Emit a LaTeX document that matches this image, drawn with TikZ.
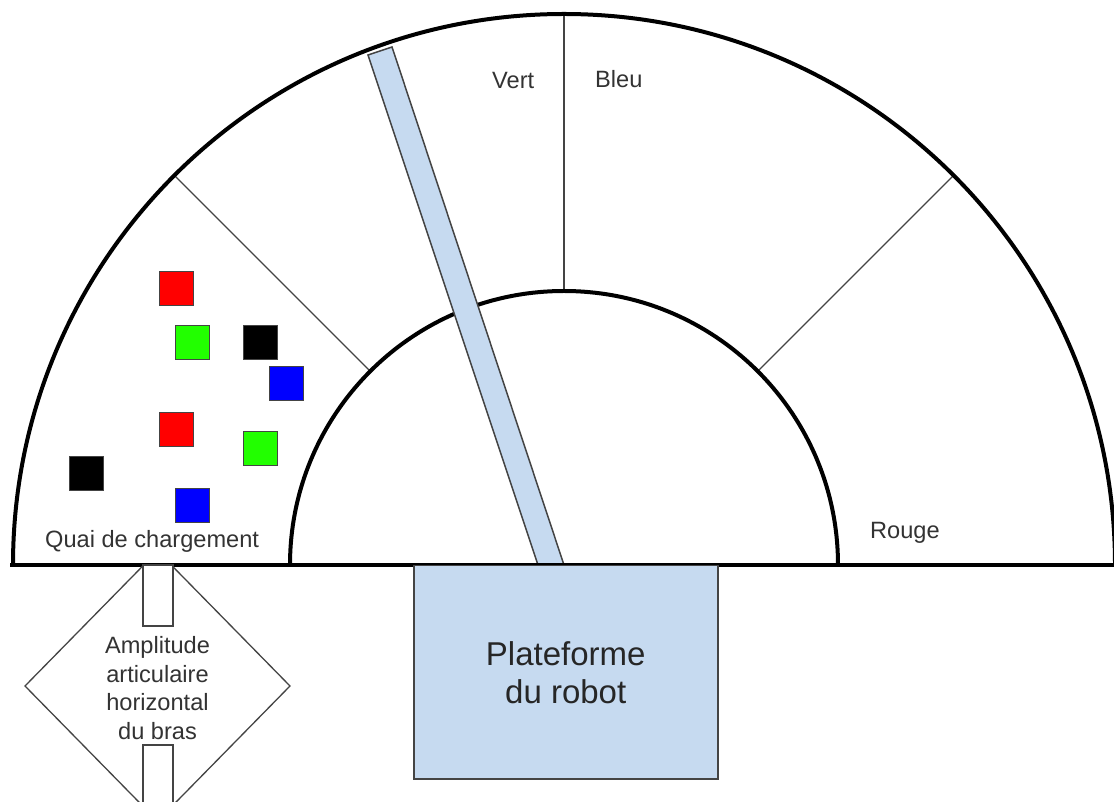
\documentclass[tikz,border=0pt]{standalone}
\usepackage{fontspec}
\setmainfont{Liberation Sans}
\definecolor{armblue}{HTML}{C6DAF0}
\definecolor{edge}{HTML}{444444}
\definecolor{cubered}{HTML}{FF0000}
\definecolor{cubegreen}{HTML}{22FF00}
\definecolor{cubeblue}{HTML}{0000FF}
\tikzset{
  thickline/.style={line width=4pt, black},
  radial/.style={line width=1.3pt, draw=edge},
  lbl/.style={inner sep=0pt, anchor=base west, text=black!80, font=\fontsize{23.6}{28}\selectfont},
  cube/.style={minimum size=34pt, inner sep=0pt, draw=edge, line width=1pt},
  bluebox/.style={fill=armblue, draw=edge, line width=1.5pt},
}
\begin{document}
\begin{tikzpicture}[x=1pt,y=1pt]
\useasboundingbox (0,0) rectangle (1114,801);
\fill[white] (0,0) rectangle (1114,801);
\coordinate (C) at (564,236);
% radial separators
\draw[radial] ([shift={(135:274)}]C) -- ([shift={(135:551)}]C);
\draw[radial] ([shift={(90:274)}]C) -- ([shift={(90:551)}]C);
\draw[radial] ([shift={(45:274)}]C) -- ([shift={(45:551)}]C);
% inner arc
\draw[thickline] ([shift={(180:274)}]C) arc[start angle=180, end angle=0, radius=274];
% arm
\draw[bluebox] (538,236) -- (564,236) -- (392,754) -- (368,746) -- cycle;
% outer arc and baseline
\draw[thickline] ([shift={(180:551)}]C) arc[start angle=180, end angle=0, radius=551];
\draw[thickline] (10,236) -- (1114,236);
% platform
\node[bluebox, minimum width=304pt, minimum height=213pt, anchor=north west, inner sep=0pt,
      align=center, font=\fontsize{33}{38}\selectfont, text=black!85] (plat) at (413,236)
      {Plateforme\\du robot};
% diamond (clipped below baseline)
\begin{scope}
\clip (0,0) rectangle (1114,236);
\draw[draw=edge, line width=1.3pt, fill=white] (25,115) -- (157.5,250) -- (290,115) -- (157.5,-20) -- cycle;
\draw[draw=edge, line width=1.3pt, fill=white] (143,236) rectangle (173,175);
\draw[draw=edge, line width=1.3pt, fill=white] (143,56) rectangle (173,-5);
\end{scope}
\node[align=center, font=\fontsize{23.6}{28.5}\selectfont, text=black!80, inner sep=0pt] (amp) at (157.5,113)
  {Amplitude\\articulaire\\horizontal\\du bras};
% cubes
\node[cube, fill=cubered] (r1) at (176,512) {};
\node[cube, fill=cubegreen] (g1) at (192,458) {};
\node[cube, fill=black] (k1) at (260,458) {};
\node[cube, fill=cubeblue] (b1) at (286,417) {};
\node[cube, fill=cubered] (r2) at (176,371) {};
\node[cube, fill=cubegreen] (g2) at (260,352) {};
\node[cube, fill=black] (k2) at (86,327) {};
\node[cube, fill=cubeblue] (b2) at (192,295) {};
% labels
\node[lbl] (quai) at (45,253) {Quai de chargement};
\node[lbl] (vert) at (492,712) {Vert};
\node[lbl] (bleu) at (595,713) {Bleu};
\node[lbl] (rouge) at (870,262) {Rouge};
\end{tikzpicture}
\end{document}
